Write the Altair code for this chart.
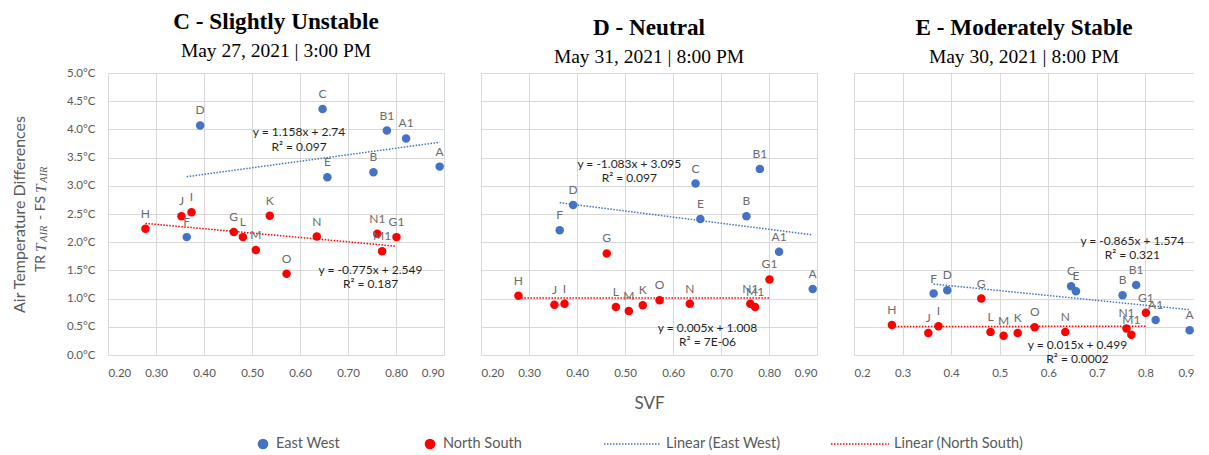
import altair as alt
import pandas as pd

# ---------------- data ----------------
ew_sites = ["F", "D", "C", "E", "B", "B1", "A1", "A"]
ew_svf = [0.364, 0.392, 0.647, 0.657, 0.753, 0.781, 0.821, 0.891]
ns_sites = ["H", "J", "I", "G", "L", "M", "K", "O", "N", "N1", "M1", "G1"]
ns_svf = [0.278, 0.353, 0.374, 0.462, 0.481, 0.508, 0.537, 0.572, 0.635, 0.761, 0.771, 0.801]

c_ew = [2.09, 4.07, 4.36, 3.15, 3.24, 3.98, 3.84, 3.34]
c_ns = [2.24, 2.46, 2.53, 2.18, 2.09, 1.86, 2.47, 1.44, 2.10, 2.15, 1.84, 2.09]
d_ew = [2.21, 2.66, 3.04, 2.41, 2.46, 3.30, 1.83, 1.17]
d_ns = [1.05, 0.89, 0.91, 1.80, 0.85, 0.78, 0.88, 0.97, 0.91, 0.91, 0.85, 1.34]
e_ew = [1.09, 1.15, 1.22, 1.13, 1.06, 1.24, 0.62, 0.44]
e_ns = [0.53, 0.39, 0.51, 1.00, 0.41, 0.34, 0.39, 0.49, 0.41, 0.47, 0.36, 0.75]

panel_titles = ["C - Slightly Unstable", "D - Neutral", "E - Moderately Stable"]
panel_subtitles = ["May 27, 2021 | 3:00 PM", "May 31, 2021 | 8:00 PM", "May 30, 2021 | 8:00 PM"]

ew_slope = [1.158, -1.083, -0.865]
ew_icpt = [2.74, 3.095, 1.574]
ew_r2 = ["0.097", "0.097", "0.321"]
ns_slope = [-0.775, 0.005, 0.015]
ns_icpt = [2.549, 1.008, 0.499]
ns_r2 = ["0.187", "7E-06", "0.0002"]

# equation label anchors (data coordinates: svf, line-1 value, line-2 value)
ew_eq_pos = [(0.598, 3.95, 3.69), (0.509, 3.38, 3.14), (0.773, 2.03, 1.78)]
ns_eq_pos = [(0.747, 1.51, 1.26), (0.672, 0.485, 0.225), (0.660, 0.18, -0.07)]

x_ticks = [0.2, 0.3, 0.4, 0.5, 0.6, 0.7, 0.8, 0.9]
y_ticks = [0.0, 0.5, 1.0, 1.5, 2.0, 2.5, 3.0, 3.5, 4.0, 4.5, 5.0]
x_formats = [".2f", ".2f", ".1f"]

legend_labels = ["East West", "North South", "Linear (East West)", "Linear (North South)"]

BLUE = "#4472C4"
RED = "#FF0000"
GRAY = "#595959"
LBL = "#6b6b6b"
GRID = "#d9d9d9"
SANS = "Lato"
SERIF = "Liberation Serif"

vals = [(c_ew, c_ns), (d_ew, d_ns), (e_ew, e_ns)]


def fmt_eq(m, b):
    sign = "+" if b >= 0 else "-"
    return f"y = {m:g}x {sign} {abs(b):g}"


def panel(i):
    ew_v, ns_v = vals[i]
    pts = pd.DataFrame(
        [dict(series="East West", site=s, svf=x, val=v) for s, x, v in zip(ew_sites, ew_svf, ew_v)]
        + [dict(series="North South", site=s, svf=x, val=v) for s, x, v in zip(ns_sites, ns_svf, ns_v)]
    )
    trend = pd.DataFrame(
        [dict(series="East West", svf=x, val=ew_slope[i] * x + ew_icpt[i]) for x in (min(ew_svf), max(ew_svf))]
        + [dict(series="North South", svf=x, val=ns_slope[i] * x + ns_icpt[i]) for x in (min(ns_svf), max(ns_svf))]
    )
    ex, ey1, ey2 = ew_eq_pos[i]
    nx, ny1, ny2 = ns_eq_pos[i]
    eqs = pd.DataFrame([
        dict(t=fmt_eq(ew_slope[i], ew_icpt[i]), svf=ex, val=ey1),
        dict(t="R² = " + ew_r2[i], svf=ex, val=ey2),
        dict(t=fmt_eq(ns_slope[i], ns_icpt[i]), svf=nx, val=ny1),
        dict(t="R² = " + ns_r2[i], svf=nx, val=ny2),
    ])

    xaxis = alt.Axis(values=x_ticks, format=x_formats[i], grid=True, ticks=False, domain=False,
                     labelPadding=12, title="SVF" if i == 1 else None,
                     titleFont=SANS, titleFontSize=17, titleColor=GRAY, titleFontWeight="normal",
                     titlePadding=17)
    if i == 0:
        yaxis = alt.Axis(values=y_ticks, labelExpr="format(datum.value, '.1f') + '°C'", grid=True,
                         ticks=False, domain=False, labelPadding=13,
                         title="Air Temperature Differences", titleFont=SANS, titleFontSize=16,
                         titleColor=GRAY, titleFontWeight="normal", titlePadding=39)
    else:
        yaxis = alt.Axis(values=y_ticks, labels=False, grid=True, ticks=False, domain=False, title=None)

    xenc = alt.X("svf:Q", scale=alt.Scale(domain=[0.2, 0.9], nice=False, zero=False), axis=xaxis)
    yenc = alt.Y("val:Q", scale=alt.Scale(domain=[0, 5], nice=False, zero=False), axis=yaxis)
    cenc = alt.Color("series:N", scale=alt.Scale(domain=["East West", "North South"], range=[BLUE, RED]),
                     legend=None)

    p = alt.Chart(pts).mark_circle(size=72, opacity=1).encode(x=xenc, y=yenc, color=cenc)
    lab = alt.Chart(pts).mark_text(dy=-15, font=SANS, fontSize=12, color=LBL).encode(
        x=xenc, y=yenc, text="site:N")
    tl = alt.Chart(trend).mark_line(strokeDash=[1.5, 1.5], strokeWidth=1.5).encode(
        x=xenc, y=yenc, color=cenc, detail="series:N")
    eq = alt.Chart(eqs).mark_text(font=SANS, fontSize=12, color="#1f1f1f", baseline="middle").encode(
        x=xenc, y=yenc, text="t:N")
    layers = [p, tl, lab, eq]

    if i == 0:
        # second line of the y title: TR T_AIR - FS T_AIR
        ax, ay = -67, 199
        pieces = [
            ("TR", SANS, "normal", 14, 0, 0),
            ("T", SERIF, "italic", 15.5, 20, 0),
            ("AIR", SERIF, "italic", 10.5, 30, 3),
            ("- FS", SANS, "normal", 14, 52, 0),
            ("T", SERIF, "italic", 15.5, 79, 0),
            ("AIR", SERIF, "italic", 10.5, 89, 3),
        ]
        for txt, fnt, sty, sz, dx, dy in pieces:
            layers.append(
                alt.Chart(alt.Data(values=[{"t": txt}])).mark_text(
                    font=fnt, fontStyle=sty, fontSize=sz, angle=270, align="left", baseline="middle",
                    dx=dx, dy=dy, color=GRAY,
                ).encode(x=alt.value(ax), y=alt.value(ay), text="t:N")
            )

    return alt.layer(*layers).properties(
        width=336 if i < 2 else 340,
        height=282,
        title=alt.TitleParams(
            text=panel_titles[i], subtitle=panel_subtitles[i],
            font=SERIF, fontSize=23.2, fontWeight="bold", color="black",
            subtitleFont=SERIF, subtitleFontSize=19.5, subtitleColor="black",
            anchor="middle", frame="group", offset=6, subtitlePadding=7.3,
        ),
    )


row = alt.hconcat(panel(0), panel(1), panel(2), spacing=37, bounds="flush")

# ---------------- legend (positions relative to the first plot's left edge) ----------------
leg_dots = pd.DataFrame({"px": [155, 322], "c": [BLUE, RED]})
leg_lines = pd.DataFrame({"x1": [496, 723], "x2": [553, 781], "c": [BLUE, RED]})
leg_text = pd.DataFrame({"px": [168, 335, 558, 786], "label": legend_labels})

ld = alt.Chart(leg_dots).mark_circle(size=113, opacity=1).encode(
    x=alt.X("px:Q", scale=None), y=alt.value(6), color=alt.Color("c:N", scale=None))
ll = alt.Chart(leg_lines).mark_rule(strokeDash=[1.5, 1.5], strokeWidth=1.5).encode(
    x=alt.X("x1:Q", scale=None), x2="x2:Q", y=alt.value(6), color=alt.Color("c:N", scale=None))
lt = alt.Chart(leg_text).mark_text(align="left", baseline="middle", font=SANS, fontSize=14.5,
                                   color=GRAY).encode(
    x=alt.X("px:Q", scale=None), y=alt.value(6), text="label:N")
legend = alt.layer(ld, ll, lt).properties(width=940, height=12)

chart = alt.vconcat(row, legend, spacing=24).properties(
    padding={"left": 3, "top": 2, "right": 0, "bottom": 0}
).configure_view(stroke=None).configure_axis(
    gridColor=GRID, labelColor=GRAY, labelFont=SANS, labelFontSize=11.5,
)

chart.save("out.html", embed_options={"renderer": "svg", "actions": False})
